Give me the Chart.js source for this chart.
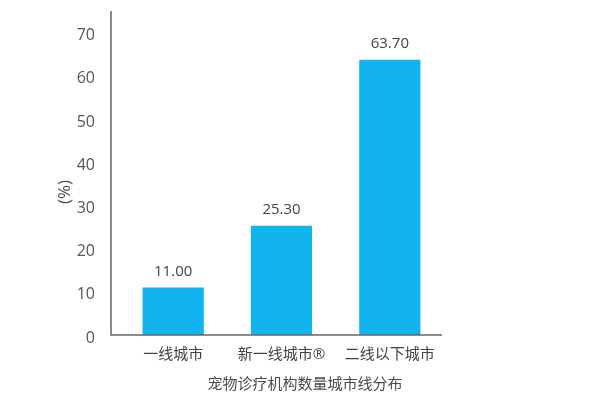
<!DOCTYPE html>
<html>
<head>
<meta charset="utf-8">
<script src="https://cdn.jsdelivr.net/npm/chart.js@4"></script>
<style>
  html, body { margin: 0; padding: 0; background: #fff; }
  #wrap { width: 600px; height: 412px; }
</style>
</head>
<body>
<div id="wrap"><canvas id="cityChart"></canvas></div>
<script>
// 城市线分布数据
const categories = ['一线城市', '新一线城市®', '二线以下城市'];
const values = [11.00, 25.30, 63.70];
const yMax = 75;
const yStep = 10;
const yTitle = '(%)';
const xTitle = '宠物诊疗机构数量城市线分布';

const FONT = "'Open Sans', 'Noto Sans CJK SC', sans-serif";

// 坐标轴线、数值标签、轴标题
const decor = {
  id: 'decor',
  afterDraw(chart) {
    const { ctx, chartArea: a } = chart;
    ctx.save();

    ctx.strokeStyle = '#666';
    ctx.lineWidth = 1.5;
    ctx.beginPath();
    ctx.moveTo(a.left - 8, a.top);
    ctx.lineTo(a.left - 8, a.bottom);
    ctx.lineTo(a.right - 2, a.bottom);
    ctx.stroke();

    const meta = chart.getDatasetMeta(0);
    ctx.font = '15px ' + FONT;
    ctx.fillStyle = '#444';
    ctx.textAlign = 'center';
    ctx.textBaseline = 'middle';
    meta.data.forEach((bar, i) => {
      ctx.fillText(values[i].toFixed(2), bar.x, bar.y - 16);
    });

    ctx.fillStyle = '#4a4a4a';
    ctx.fillText(xTitle, 305, 385);

    ctx.translate(65, 192);
    ctx.rotate(-Math.PI / 2);
    ctx.font = '17px ' + FONT;
    ctx.fillText(yTitle, 0, 0);
    ctx.restore();
  }
};

const ctx = document.getElementById('cityChart').getContext('2d');
new Chart(ctx, {
  type: 'bar',
  data: {
    labels: categories,
    datasets: [{
      data: values,
      backgroundColor: '#12b4ef',
      borderWidth: 0,
      categoryPercentage: 1,
      barPercentage: 0.565
    }]
  },
  options: {
    responsive: true,
    maintainAspectRatio: false,
    animation: false,
    events: [],
    layout: { padding: { left: 0, right: 156, top: 11, bottom: 47 } },
    plugins: {
      legend: { display: false },
      tooltip: { enabled: false }
    },
    scales: {
      x: {
        grid: { display: false },
        border: { display: false },
        ticks: { color: '#444', font: { family: FONT, size: 15 }, padding: 3, maxRotation: 0 },
        afterFit(scale) { scale.height = 30; scale.paddingLeft = 0; scale.paddingRight = 0; }
      },
      y: {
        min: 0,
        max: yMax,
        grid: { display: false },
        border: { display: false },
        ticks: { stepSize: yStep, includeBounds: false, color: '#555', font: { family: FONT, size: 16 }, padding: 16, labelOffset: 3 },
        afterFit(scale) { scale.width = 119; scale.paddingTop = 0; scale.paddingBottom = 0; }
      }
    }
  },
  plugins: [decor]
});
</script>
</body>
</html>
